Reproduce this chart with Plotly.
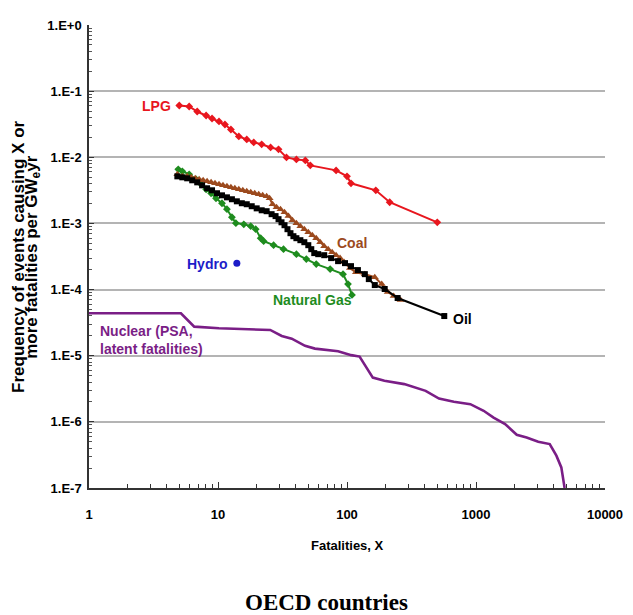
import plotly.graph_objects as go

# ---------------- data ----------------
lpg_x = [5.01, 5.98, 6.90, 8.09, 8.99, 10.18, 11.32, 12.59, 14.5, 16.71, 18.92, 21.81,
         25.57, 29.46, 33.95, 40.53, 47.53, 51.93, 82.32, 100, 107.4, 167.2, 214.2, 501]
lpg_y = [0.0607, 0.0586, 0.0492, 0.0428, 0.0386, 0.0348, 0.0313, 0.0263, 0.0207, 0.0186,
         0.0168, 0.0157, 0.0141, 0.0132, 0.00996, 0.00929, 0.00898, 0.00755, 0.00634,
         0.00515, 0.00404, 0.00317, 0.00209, 0.00104]

gas_x = [4.92, 5.29, 5.98, 6.77, 7.40, 8.09, 8.84, 9.65, 10.74, 11.73, 12.82, 13.76, 15.85,
         17.94, 19.6, 21.42, 22.59, 26.97, 32.19, 40.53, 48.38, 57.75, 74.01, 93.16, 101.8, 109.3]
gas_y = [0.00657, 0.00613, 0.00552, 0.00464, 0.0039, 0.00328, 0.00286, 0.0024, 0.00202,
         0.00164, 0.00124, 0.00101, 0.00097, 0.00091, 0.00082, 0.000598, 0.00054, 0.000469,
         0.000408, 0.000343, 0.000289, 0.000243, 0.000204, 0.000171, 0.000121, 8.3e-5]

coal_x = [4.84, 5.29, 5.77, 6.20, 6.66, 7.14, 7.67, 8.23, 8.84, 9.48, 10.18, 10.93, 11.73,
          12.59, 13.51, 14.5, 15.57, 16.71, 17.94, 19.26, 20.68, 22.19, 23.82, 25.12, 26.49,
          28.44, 30.52, 32.77, 35.18, 37.76, 40.53, 43.51, 46.69, 50.12, 53.8, 57.75, 61.99,
          66.55, 71.44, 76.69, 82.32, 88.37, 94.83, 105.5, 117.3, 137.5, 164.2, 185.8, 206.8,
          229.9, 260.3]
coal_y = [0.00552, 0.00515, 0.00515, 0.00498, 0.00481, 0.00464, 0.00449, 0.00434, 0.00418,
          0.00404, 0.0039, 0.00377, 0.00364, 0.00352, 0.0034, 0.00328, 0.00317, 0.00306,
          0.00296, 0.00286, 0.00276, 0.00266, 0.00257, 0.0024, 0.00195, 0.00175, 0.00164,
          0.00148, 0.00129, 0.00112, 0.00101, 0.000908, 0.000818, 0.000737, 0.000664,
          0.000598, 0.00052, 0.000453, 0.000408, 0.000368, 0.000331, 0.000299, 0.00026,
          0.000211, 0.000183, 0.000171, 0.000154, 0.000121, 9.2e-5, 7.98e-5, 6.95e-5]

oil_x = [4.84, 5.29, 5.77, 6.31, 6.90, 7.53, 8.23, 8.99, 9.82, 10.74, 11.73, 12.82, 14.0,
         15.3, 16.71, 18.26, 19.95, 21.81, 23.82, 26.03, 27.94, 29.46, 31.07, 32.77, 34.56,
         36.45, 38.43, 40.53, 43.51, 46.69, 50.12, 52.86, 55.74, 59.83, 66.55, 75.34, 85.3,
         96.5, 107.4, 121.5, 137.5, 147.6, 164.2, 196.0, 246.9, 567.5]
oil_y = [0.00515, 0.00498, 0.00481, 0.00449, 0.00418, 0.00377, 0.0034, 0.00317, 0.00286,
         0.00266, 0.00248, 0.00232, 0.00216, 0.00202, 0.00195, 0.00182, 0.00169, 0.00158,
         0.00153, 0.00138, 0.00129, 0.00116, 0.00104, 0.00094, 0.000818, 0.000712, 0.000641,
         0.000598, 0.000558, 0.00052, 0.000469, 0.000408, 0.000356, 0.000343, 0.000331,
         0.000299, 0.000269, 0.000251, 0.000226, 0.000197, 0.000171, 0.000144, 0.000117,
         0.000102, 7.45e-5, 3.98e-5]

hydro_x = [14.0]
hydro_y = [0.000251]

nuc_x = [1, 5.16, 6.54, 10.18, 25.4, 31.2, 37.3, 47.3, 56.4, 71.4, 85.3, 108, 125.2, 158.5,
         195, 278, 331.8, 407, 516.6, 673.5, 904, 1146, 1368, 1681, 2068, 2468, 3036, 3728,
         4199, 4586, 4864]
nuc_y = [4.38e-5, 4.38e-5, 2.75e-5, 2.60e-5, 2.45e-5, 1.99e-5, 1.81e-5, 1.41e-5, 1.28e-5,
         1.22e-5, 1.17e-5, 1.02e-5, 9.7e-6, 4.67e-6, 4.17e-6, 3.72e-6, 3.30e-6, 2.94e-6,
         2.25e-6, 2.01e-6, 1.85e-6, 1.47e-6, 1.16e-6, 9.26e-7, 6.38e-7, 5.82e-7, 5.01e-7,
         4.62e-7, 3.08e-7, 2.05e-7, 1e-7]

x_tickvals = [1, 10, 100, 1000, 10000]
x_ticktext = ["1", "10", "100", "1000", "10000"]
y_tickvals = [1, 1e-1, 1e-2, 1e-3, 1e-4, 1e-5, 1e-6, 1e-7]
y_ticktext = ["1.E+0", "1.E-1", "1.E-2", "1.E-3", "1.E-4", "1.E-5", "1.E-6", "1.E-7"]

# ---------------- styling ----------------
C_LPG = "#E8161E"
C_COAL = "#9C4A1E"
C_OIL = "#000000"
C_GAS = "#1E8C1E"
C_HYDRO = "#1C1CC8"
C_NUC = "#7A1E86"
FONT = "Liberation Sans, Arial, sans-serif"

fig = go.Figure()
fig.add_trace(go.Scatter(x=nuc_x, y=nuc_y, mode="lines",
                         line=dict(color=C_NUC, width=2.6), cliponaxis=True))
fig.add_trace(go.Scatter(x=lpg_x, y=lpg_y, mode="lines+markers",
                         line=dict(color=C_LPG, width=2),
                         marker=dict(symbol="diamond", size=6, color=C_LPG)))
fig.add_trace(go.Scatter(x=gas_x, y=gas_y, mode="lines+markers",
                         line=dict(color=C_GAS, width=2),
                         marker=dict(symbol="diamond", size=6, color=C_GAS)))
fig.add_trace(go.Scatter(x=coal_x, y=coal_y, mode="lines+markers",
                         line=dict(color=C_COAL, width=2),
                         marker=dict(symbol="triangle-up", size=7, color=C_COAL)))
fig.add_trace(go.Scatter(x=oil_x, y=oil_y, mode="lines+markers",
                         line=dict(color=C_OIL, width=2),
                         marker=dict(symbol="square", size=6, color=C_OIL)))
fig.add_trace(go.Scatter(x=hydro_x, y=hydro_y, mode="markers",
                         marker=dict(symbol="circle", size=7, color=C_HYDRO)))

minor_x = [m * 10 ** d for d in range(0, 4) for m in range(2, 10)]
minor_y = [m * 10.0 ** d for d in range(-7, 0) for m in range(2, 10)]

fig.update_xaxes(type="log", range=[0, 4], tickmode="array", tickvals=x_tickvals,
                 ticktext=x_ticktext, showgrid=False, showline=True, linecolor="#333333",
                 linewidth=1.5, ticks="inside", ticklen=6, tickcolor="#333333",
                 tickfont=dict(family=FONT, size=13, color="black", weight="bold"),
                 ticklabelstandoff=14,
                 minor=dict(tickmode="array", tickvals=minor_x, ticks="inside",
                            ticklen=4, tickcolor="#333333", showgrid=False))
fig.update_yaxes(type="log", range=[-7, 0], tickmode="array", tickvals=y_tickvals,
                 ticktext=y_ticktext, showgrid=True, gridcolor="#B4B4B4", gridwidth=2,
                 showline=True, linecolor="#333333", linewidth=1.5,
                 ticks="inside", ticklen=5, tickcolor="#333333",
                 tickfont=dict(family=FONT, size=13, color="black", weight="bold"),
                 ticklabelstandoff=3,
                 minor=dict(tickmode="array", tickvals=minor_y, ticks="inside",
                            ticklen=3, tickcolor="#555555", showgrid=False))

def lab(text, x, y, color, xanchor="center", size=14, align="center"):
    fig.add_annotation(text=text, x=x, y=y, xref="paper", yref="paper",
                       xanchor=xanchor, yanchor="middle", showarrow=False, align=align,
                       font=dict(family=FONT, size=size, color=color, weight="bold"))

lab("LPG", 0.162, 0.825, C_LPG, xanchor="right")
lab("Coal", 0.509, 0.530, C_COAL)
lab("Oil", 0.701, 0.364, C_OIL, xanchor="left")
lab("Natural Gas", 0.4335, 0.405, C_GAS)
lab("Hydro", 0.272, 0.483, C_HYDRO, xanchor="right")
lab("Nuclear (PSA,<br>latent fatalities)", 0.017, 0.320, C_NUC, xanchor="left", align="left")

# axis titles
fig.add_annotation(text="Frequency of events causing X or", x=-0.1368, y=0.5,
                   xref="paper", yref="paper", textangle=-90, showarrow=False,
                   xanchor="center", yanchor="middle",
                   font=dict(family=FONT, size=17, color="black", weight="bold"))
fig.add_annotation(text="more fatalities per GW<sub>e</sub>yr", x=-0.1098, y=0.5,
                   xref="paper", yref="paper", textangle=-90, showarrow=False,
                   xanchor="center", yanchor="middle",
                   font=dict(family=FONT, size=17, color="black", weight="bold"))
fig.add_annotation(text="Fatalities, X", x=0.5, y=-0.125, xref="paper", yref="paper",
                   showarrow=False, xanchor="center", yanchor="middle",
                   font=dict(family=FONT, size=13, color="black", weight="bold"))
fig.add_annotation(text="OECD countries", x=0.46, y=-0.247, xref="paper", yref="paper",
                   showarrow=False, xanchor="center", yanchor="middle",
                   font=dict(family="Liberation Serif, Times New Roman, serif", size=23,
                             color="black", weight="bold"))

# the page body adds an 8px offset, so the figure is 8px smaller and margins shifted
fig.update_layout(width=625, height=607, showlegend=False,
                  margin=dict(l=81, r=25, t=10, b=127),
                  paper_bgcolor="white", plot_bgcolor="white")

fig.write_html("out.html")
